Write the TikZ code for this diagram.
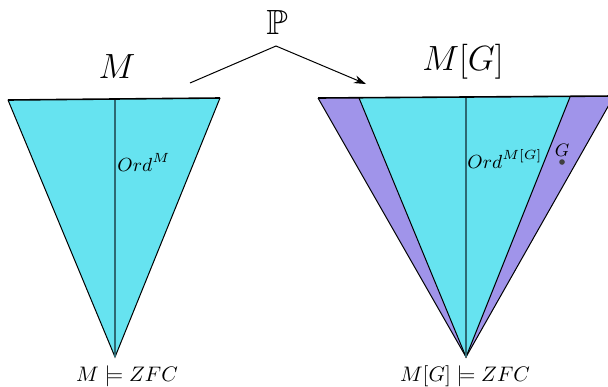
\documentclass[tikz,border=0pt]{standalone}
\usepackage{fix-cm}
\usepackage{amsmath}
\usepackage{amssymb}
\usepackage{xcolor}
\usepackage{tikz}
\usetikzlibrary{arrows.meta, positioning}

\definecolor{modelcyan}{RGB}{102,227,240}
\definecolor{genericpurple}{RGB}{160,148,234}
\definecolor{ordline}{RGB}{45,105,115}

\begin{document}
\begin{tikzpicture}[
  x=0.5pt, y=-0.5pt,
  cone/.style    = {draw=black, line width=0.5pt, line join=miter},
  rim/.style     = {draw=black, line width=0.8pt},
  ordaxis/.style = {draw=ordline, line width=0.9pt},
  big/.style     = {font=\fontsize{17.5}{20}\selectfont, inner sep=0pt},
  ordlab/.style  = {font=\fontsize{9.5}{11}\selectfont, inner sep=0pt, anchor=base west},
  zfc/.style     = {font=\fontsize{10.5}{12}\selectfont, inner sep=0pt},
  arr/.style     = {-{Stealth[length=6pt, width=4pt]}, line width=0.5pt},
]
\useasboundingbox (0,0) rectangle (608,386);
\clip (0,0) rectangle (608,386);

% Left cone -- M
\coordinate (mtl)  at (8,100);
\coordinate (mtr)  at (220,98);
\coordinate (mtop) at (115,99);
\coordinate (mbot) at (115,357);
\fill[modelcyan] (mtl) -- (mtr) -- (mbot) -- cycle;
\draw[cone] (mtl) -- (mbot) -- (mtr);
\draw[ordaxis] (mtop) -- (mbot);
\draw[rim] (mtl) -- (mtr);

% Right cone -- M[G]
\coordinate (gtl)  at (318,98);
\coordinate (gtr)  at (614,96);
\coordinate (ctl)  at (359,98);
\coordinate (ctr)  at (570,97);
\coordinate (gtop) at (466,97);
\coordinate (gbot) at (466,357);
\fill[genericpurple] (gtl) -- (gtr) -- (gbot) -- cycle;
\draw[cone] (gtl) -- (gbot) -- (gtr);
\fill[modelcyan] (ctl) -- (ctr) -- (gbot) -- cycle;
\draw[cone] (ctl) -- (gbot) -- (ctr);
\draw[ordaxis] (gtop) -- (gbot);
\draw[rim] (gtl) -- (gtr);

% Labels
\node[big] (mlabel)  at (117,67) {$M$};
\node[big] (mglabel) at (463,62) {$M[G]$};
\node[big] (forcing) at (277,22) {$\mathbb{P}$};
\node[ordlab] (ordm)  at (117,171) {$Ord^{M}$};
\node[ordlab] (ordmg) at (467,168) {$Ord^{M[G]}$};
\node[font=\fontsize{9}{11}\selectfont, inner sep=0pt] (gen) at (562,150) {$G$};
\node[circle, fill=black!75, inner sep=0pt, minimum size=2.8pt] (gdot) at (562,162) {};
\node[zfc] (mzfc)  at (127,376) {$M\models ZFC$};
\node[zfc] (mgzfc) at (465,376) {$M[G]\models ZFC$};

% Forcing arrow
\coordinate (arrstart) at (190,83);
\coordinate (arrpeak)  at (276,46);
\coordinate (arrend)   at (366,84);
\draw[arr] (arrstart) -- (arrpeak) -- (arrend);
\end{tikzpicture}
\end{document}
